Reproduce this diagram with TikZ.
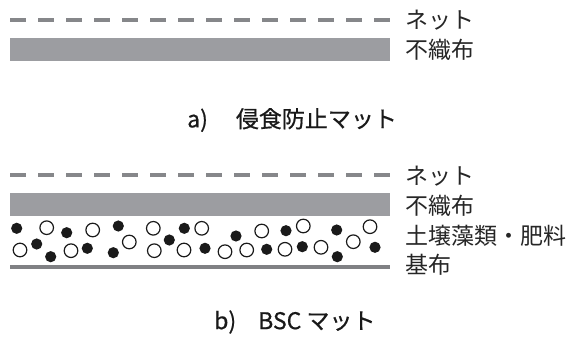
\documentclass[tikz,border=0pt]{standalone}
\usepackage{fontspec}
\newfontfamily\jp{Noto Sans CJK JP}
\newfontfamily\jpcap[FakeBold=0.6]{Noto Sans CJK JP}
\definecolor{barcol}{HTML}{9C9DA1}
\definecolor{dashcol}{HTML}{86878A}
\definecolor{basecol}{HTML}{808184}
\definecolor{dotcol}{HTML}{1A1A1A}
\tikzset{
  lbl/.style={anchor=west, inner sep=0pt, font=\jp\fontsize{23}{23}\selectfont, text=black!85},
  captxt/.style={anchor=west, inner sep=0pt, font=\jpcap\fontsize{23}{23}\selectfont, text=black!90},
  netline/.style={draw=dashcol, line width=3.3pt, dash pattern=on 16pt off 12pt},
  barfill/.style={fill=barcol},
  basefill/.style={fill=basecol},
  fulldot/.style={fill=dotcol},
  hollowdot/.style={draw=dotcol, line width=1.2pt, fill=white}
}
\begin{document}
\begin{tikzpicture}[x=1pt,y=-1pt]
\useasboundingbox (0,0) rectangle (574,340);
% --- a) ---
\draw[netline] (10,20) -- (390,20);
\fill[barfill] (10,38) rectangle (390,61);
\node[lbl] (neta) at (405,20) {ネット};
\node[lbl] (fua) at (405,50) {不織布};
\node[captxt] (capa) at (187,120) {a)\hspace{28pt}侵食防止マット};
% --- b) ---
\draw[netline] (10,175) -- (390,175);
\fill[barfill] (10,193) rectangle (390,215.5);
\foreach \x/\y in {16.7/228.3, 66.7/232.7, 118.3/226, 184.3/228.3, 36.7/244, 50.7/256.7, 87.3/248.3, 113.3/252.7, 169.3/240, 205/248.3, 236/236, 266.7/249.3, 286/230.7, 302.3/246.7, 336.7/230, 337.3/256.7, 375/247.3}
  \fill[fulldot] (\x,\y) circle (5.6);
\foreach \x/\y in {46.7/227.7, 92.7/230, 153.3/228.3, 201.7/228.3, 261.7/231, 303.3/226, 370/226.7, 20/250, 71/250.7, 129.3/242, 154.3/250.7, 184/250, 225/251.7, 246.7/250, 285/249.3, 321/247.3, 353.3/241.7}
  \draw[hollowdot] (\x,\y) circle (6.8);
\fill[basefill] (10,265) rectangle (390,269);
\node[lbl] (netb) at (405,176) {ネット};
\node[lbl] (fub) at (405,206) {不織布};
\node[lbl] (soil) at (405,236) {土壌藻類・肥料};
\node[lbl] (base) at (405,265) {基布};
\node[captxt] (capb) at (214,322) {b)\hspace{22pt}BSC マット};
\end{tikzpicture}
\end{document}
